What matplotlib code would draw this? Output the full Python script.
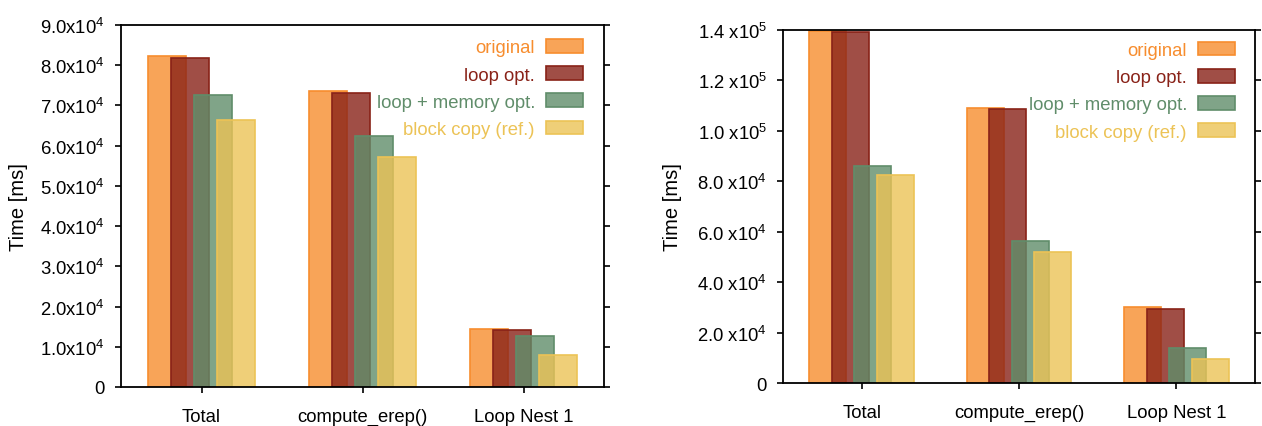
import matplotlib
matplotlib.use("Agg")
import matplotlib.pyplot as plt
import numpy as np

plt.rcParams['font.family'] = ['Liberation Sans', 'DejaVu Sans']
plt.rcParams['mathtext.fontset'] = 'custom'
plt.rcParams['mathtext.rm'] = 'Liberation Sans'
plt.rcParams['mathtext.it'] = 'Liberation Sans:italic'
plt.rcParams['mathtext.default'] = 'regular'

categories = ["Total", "compute_erep()", "Loop Nest 1"]
series = ["original", "loop opt.", "loop + memory opt.", "block copy (ref.)"]
colors = ["#F78D2E", "#892218", "#608D6A", "#ECC356"]

left_original = [82400, 73500, 14400]
left_loop = [81800, 73100, 14100]
left_loopmem = [72600, 62300, 12700]
left_block = [66500, 57300, 8000]

right_original = [139400, 109100, 30300]
right_loop = [139000, 108500, 29500]
right_loopmem = [86100, 56200, 14000]
right_block = [82600, 51900, 9500]

left_yticks = [0, 10000, 20000, 30000, 40000, 50000, 60000, 70000, 80000, 90000]
left_yticklabels = ["0", "1.0x10$^{4}$", "2.0x10$^{4}$", "3.0x10$^{4}$", "4.0x10$^{4}$",
                    "5.0x10$^{4}$", "6.0x10$^{4}$", "7.0x10$^{4}$", "8.0x10$^{4}$", "9.0x10$^{4}$"]
right_yticks = [0, 20000, 40000, 60000, 80000, 100000, 120000, 140000]
right_yticklabels = ["0", "2.0 x10$^{4}$", "4.0 x10$^{4}$", "6.0 x10$^{4}$", "8.0 x10$^{4}$",
                     "1.0 x10$^{5}$", "1.2 x10$^{5}$", "1.4 x10$^{5}$"]

FS = 13.3
fig = plt.figure(figsize=(12.62, 4.27), dpi=100)
ax1 = fig.add_axes([121/1262, 1-388/427, 483/1262, 362/427])
ax2 = fig.add_axes([783/1262, 1-384.3/427, 472/1262, 353.6/427])

def draw(ax, data, yticks, yticklabels, ymax, legend_anchor):
    x = np.arange(len(categories))
    step = 0.143
    width = 0.236
    for i, (vals, c) in enumerate(zip(data, colors)):
        rgba = matplotlib.colors.to_rgba(c, 0.8)
        ax.bar(x + (i - 1.5) * step, vals, width, color=rgba, edgecolor=c,
               linewidth=1.2, label=series[i])
    ax.set_xlim(-0.5, 2.5)
    ax.set_ylim(0, ymax)
    ax.set_xticks(x)
    ax.set_xticklabels(categories, fontsize=FS)
    ax.set_yticks(yticks)
    ax.set_yticklabels(yticklabels, fontsize=FS)
    ax.set_ylabel("Time [ms]", fontsize=14.5)
    ax.tick_params(axis='y', which='both', direction='out', right=True,
                   length=4.1, width=1.2, pad=7.4)
    ax.tick_params(axis='x', direction='out', length=4.1, width=1.2, pad=10.9)
    for s in ax.spines.values():
        s.set_linewidth(1.3)
    leg = ax.legend(loc='upper right', bbox_to_anchor=legend_anchor, frameon=False,
                    markerfirst=False, fontsize=FS, labelcolor=colors,
                    handlelength=2.0, handleheight=0.76, handletextpad=0.6,
                    labelspacing=0.54, borderpad=0, borderaxespad=0)
    return leg

draw(ax1, [left_original, left_loop, left_loopmem, left_block], left_yticks,
     left_yticklabels, 90000, (1 - 21/483, 1 - 14/362))
draw(ax2, [right_original, right_loop, right_loopmem, right_block], right_yticks,
     right_yticklabels, 140000, (1 - 20/472, 1 - 12/353.6))
ax1.yaxis.set_label_coords(-0.192, 0.5)
ax2.yaxis.set_label_coords(-0.213, 0.5)

fig.savefig("out.png", dpi=100)
